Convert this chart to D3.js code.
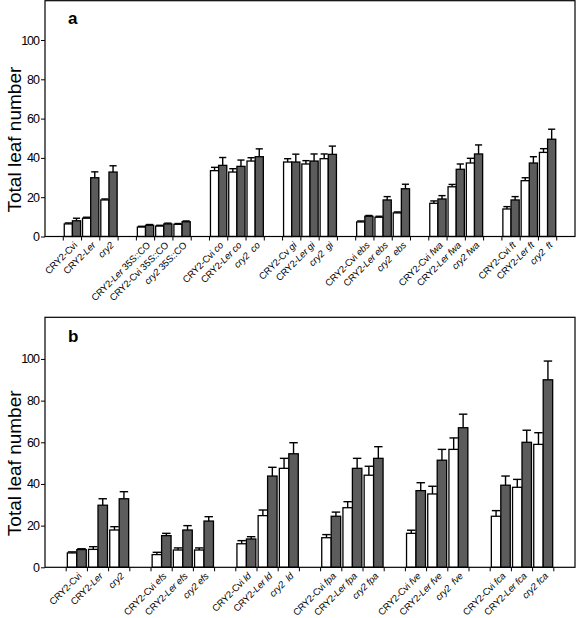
<!DOCTYPE html>
<html><head><meta charset="utf-8">
<script src="https://cdn.jsdelivr.net/npm/d3@7"></script>
<style>body{margin:0;background:#fff}svg{display:block}</style>
</head><body>
<svg id="c" width="576" height="618"></svg>
<script>
// ---- Panel a data ("" = empty slot between groups)
const labelsA = ["", "CRY2-Cvi", "CRY2-<i>Ler</i>", "<i>cry2</i>", "",
  "CRY2-<i>Ler</i> 35S::CO", "CRY2-Cvi 35S::CO", "<i>cry2</i> 35S::CO", "",
  "CRY2-Cvi <i>co</i>", "CRY2-<i>Ler co</i>", "<i>cry2  co</i>", "",
  "CRY2-Cv <i>gi</i>", "CRY2-<i>Ler gi</i>", "<i>cry2  gi</i>", "",
  "CRY2-Cvi <i>ebs</i>", "CRY2-<i>Ler ebs</i>", "<i>cry2  ebs</i>", "",
  "CRY2-Cvi <i>fwa</i>", "CRY2-<i>Ler fwa</i>", "<i>cry2 fwa</i>", "",
  "CRY2-Cvi <i>ft</i>", "CRY2-<i>Ler ft</i>", "<i>cry2  ft</i>", ""];
const whiteA   = [null, 6.4, 9.3, 18.6, null, 4.8, 5.3, 6.2, null, 33.5, 32.8, 38.4, null, 37.9, 36.9, 39.6, null, 7.4, 9.8, 12.0, null, 16.9, 25.3, 37.4, null, 14.0, 28.4, 42.8, null];
const whiteErrA= [null, 0.5, 0.5, 0.5, null, 0.4, 0.4, 0.4, null, 1.7, 1.7, 1.7, null, 1.7, 1.7, 2.4, null, 0.5, 0.5, 0.5, null, 1.2, 1.2, 2.4, null, 1.2, 1.5, 1.9, null];
const darkA    = [null, 8.0, 29.9, 32.8, null, 5.7, 6.4, 7.5, null, 36.2, 35.7, 40.6, null, 37.9, 38.4, 41.8, null, 10.3, 18.6, 24.3, null, 19.1, 34.2, 42.0, null, 18.6, 37.4, 49.5, null];
const darkErrA = [null, 1.3, 3.0, 3.2, null, 0.4, 0.4, 0.4, null, 4.0, 3.2, 4.0, null, 4.0, 3.6, 4.2, null, 0.4, 1.7, 2.3, null, 1.7, 2.7, 4.6, null, 1.7, 3.2, 5.1, null];

// ---- Panel b data
const labelsB = ["", "CRY2-Cvi", "CRY2-<i>Ler</i>", "<i>cry2</i>", "",
  "CRY2-Cvi <i>efs</i>", "CRY2-<i>Ler efs</i>", "<i>cry2 efs</i>", "",
  "CRY2-Cvi <i>ld</i>", "CRY2-<i>Ler ld</i>", "<i>cry2  ld</i>", "",
  "CRY2-Cvi <i>fpa</i>", "CRY2-<i>Ler fpa</i>", "<i>cry2 fpa</i>", "",
  "CRY2-Cvi <i>fve</i>", "CRY2-<i>Ler fve</i>", "<i>cry2  fve</i>", "",
  "CRY2-Cvi <i>fca</i>", "CRY2-<i>Ler fca</i>", "<i>cry2 fca</i>", ""];
const whiteB   = [null, 6.9, 8.6, 17.9, null, 6.1, 8.3, 8.3, null, 11.3, 24.8, 47.5, null, 14.2, 28.6, 44.2, null, 16.3, 35.2, 56.6, null, 24.5, 38.4, 59.0, null];
const whiteErrB= [null, 0.5, 1.3, 1.6, null, 1.1, 1.0, 1.0, null, 1.5, 2.7, 4.8, null, 1.5, 2.9, 4.3, null, 1.5, 3.7, 5.5, null, 2.7, 3.8, 5.6, null];
const darkB    = [null, 8.5, 29.8, 32.9, null, 15.2, 17.9, 22.2, null, 13.6, 43.8, 54.5, null, 24.5, 47.5, 52.3, null, 36.8, 51.4, 67.0, null, 39.4, 60.0, 90.0, null];
const darkErrB = [null, 0.4, 3.1, 3.4, null, 1.1, 2.1, 2.1, null, 1.1, 4.2, 5.3, null, 2.0, 4.8, 5.6, null, 3.8, 5.2, 6.5, null, 4.4, 5.8, 9.0, null];

const yTicks = [0, 20, 40, 60, 80, 100];
const yMax = 120;
const series = ["white", "dark"];
const fills = {white: "#ffffff", dark: "#5c5c5c"};

const svg = d3.select("#c");
const FONT = "Arial, 'Liberation Sans', sans-serif";

function panel(cfg) {
  const {labels, white, whiteErr, dark, darkErr, top, bottom, letter, letterY} = cfg;
  const left = 45, right = 575;
  const g = svg.append("g");
  const x = d3.scaleBand().domain(d3.range(labels.length)).range([left, right]).padding(0);
  const xs = d3.scaleBand().domain(series).range([0, x.bandwidth()]).paddingInner(0).paddingOuter(0.12);
  const y = d3.scaleLinear().domain([0, yMax]).range([bottom, top]);

  const rows = [];
  labels.forEach((l, i) => {
    if (white[i] != null) rows.push({i, s: "white", v: white[i], e: whiteErr[i]});
    if (dark[i] != null) rows.push({i, s: "dark", v: dark[i], e: darkErr[i]});
  });

  // error bars (upward only)
  const eb = g.append("g").attr("stroke", "#000").attr("stroke-width", 1.4).attr("fill", "none");
  rows.forEach(d => {
    const cx = x(d.i) + xs(d.s) + xs.bandwidth() / 2;
    const hw = xs.bandwidth() / 2 - 0.5;
    eb.append("line").attr("x1", cx).attr("x2", cx).attr("y1", y(d.v)).attr("y2", y(d.v + d.e));
    eb.append("line").attr("x1", cx - hw).attr("x2", cx + hw).attr("y1", y(d.v + d.e)).attr("y2", y(d.v + d.e));
  });

  g.append("g").selectAll("rect").data(rows).join("rect")
    .attr("x", d => x(d.i) + xs(d.s))
    .attr("width", xs.bandwidth())
    .attr("y", d => y(d.v))
    .attr("height", d => y(0) - y(d.v))
    .attr("fill", d => fills[d.s])
    .attr("stroke", "#000").attr("stroke-width", 1.3);

  // frame
  g.append("rect").attr("x", left).attr("y", top).attr("width", right - left).attr("height", bottom - top)
    .attr("fill", "none").attr("stroke", "#000").attr("stroke-width", 1.2);

  // y axis
  const ya = d3.axisLeft(y).tickValues(yTicks).tickSize(4).tickPadding(2);
  const yg = g.append("g").attr("transform", `translate(${left},0)`).call(ya);
  yg.select(".domain").remove();
  yg.selectAll("line").attr("stroke", "#000");
  yg.selectAll("text").attr("font-family", FONT).attr("font-size", 12.5)
    .attr("letter-spacing", -1).attr("fill", "#000");

  // x ticks at slot boundaries
  const bounds = d3.range(1, labels.length);
  g.append("g").selectAll("line").data(bounds).join("line")
    .attr("x1", i => x(i)).attr("x2", i => x(i))
    .attr("y1", bottom).attr("y2", bottom + 4)
    .attr("stroke", "#000").attr("stroke-width", 1);

  // x labels (rotated)
  labels.forEach((lab, i) => {
    if (!lab) return;
    const cx = x(i) + x.bandwidth() / 2;
    const t = g.append("text")
      .attr("transform", `translate(${cx + 3},${bottom + 7}) rotate(-45)`)
      .attr("text-anchor", "end").attr("dy", "0.35em")
      .attr("font-family", FONT).attr("font-size", 9.5).attr("letter-spacing", -0.15)
      .attr("fill", "#000").style("white-space", "pre");
    lab.split(/(<i>.*?<\/i>)/).filter(s => s.length).forEach(part => {
      const it = part.startsWith("<i>");
      t.append("tspan").text(it ? part.slice(3, -4) : part).attr("font-style", it ? "italic" : "normal");
    });
  });

  // y title
  g.append("text")
    .attr("transform", `translate(21,${(top + bottom) / 2 + 21}) rotate(-90)`)
    .attr("text-anchor", "middle")
    .attr("font-family", FONT).attr("font-size", 19)
    .attr("fill", "#000").text("Total leaf number");

  // panel letter
  g.append("text").attr("x", 68).attr("y", letterY)
    .attr("font-family", FONT).attr("font-size", 17).attr("font-weight", "bold")
    .attr("fill", "#000").text(letter);
}

panel({labels: labelsA, white: whiteA, whiteErr: whiteErrA, dark: darkA, darkErr: darkErrA,
  top: 0.7, bottom: 236.5, letter: "a", letterY: 24});
panel({labels: labelsB, white: whiteB, whiteErr: whiteErrB, dark: darkB, darkErr: darkErrB,
  top: 317.3, bottom: 567.3, letter: "b", letterY: 342});
</script>
</body></html>
